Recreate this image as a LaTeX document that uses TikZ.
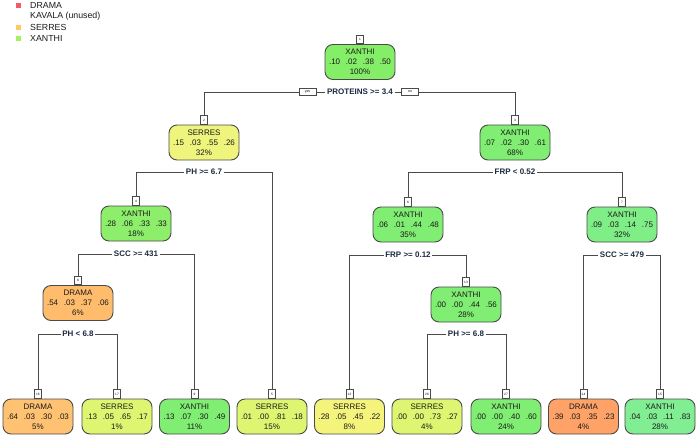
\documentclass[tikz,border=0pt]{standalone}
\usepackage{fontspec}
\setmainfont{Liberation Sans}
\definecolor{lnc}{HTML}{4A4A4A}
\definecolor{txt}{HTML}{1A1A1A}
\definecolor{spl}{HTML}{1C2A40}
\definecolor{gA}{HTML}{84EE68}
\definecolor{gB}{HTML}{80EE72}
\definecolor{gC}{HTML}{80EE86}
\definecolor{gD}{HTML}{82EE94}
\definecolor{gE}{HTML}{8CEE6A}
\definecolor{yA}{HTML}{EEF47C}
\definecolor{yB}{HTML}{F4F47C}
\definecolor{yC}{HTML}{DEF572}
\definecolor{oA}{HTML}{FFBC6C}
\definecolor{oB}{HTML}{FFC272}
\definecolor{oC}{HTML}{FFA268}
\definecolor{legR}{HTML}{F25A64}
\definecolor{legO}{HTML}{FFC860}
\definecolor{legG}{HTML}{A6F060}
\tikzset{
  tbox/.style={draw=lnc, line width=0.9pt, rounded corners=8pt, minimum width=70pt,
    minimum height=35pt, inner sep=0pt, align=center, text=txt,
    font=\fontsize{8}{9.8}\selectfont},
  numbox/.style={draw=lnc, fill=white, line width=0.6pt, minimum width=7pt,
    minimum height=8.5pt, inner sep=0pt, font=\fontsize{3.2}{3.2}\selectfont, anchor=south},
  splitlbl/.style={inner sep=1.5pt, text=spl, font=\bfseries\fontsize{8}{8}\selectfont},
  yn/.style={draw=lnc, fill=white, line width=0.6pt, minimum width=17pt, minimum height=7pt,
    inner sep=0pt, font=\fontsize{3.5}{3.5}\selectfont},
  conn/.style={draw=lnc, line width=0.9pt},
  legsq/.style={minimum width=5pt, minimum height=5pt, inner sep=0pt},
  legtxt/.style={anchor=west, inner sep=0pt, text=txt, font=\fontsize{8.8}{9}\selectfont}
}
\newcommand{\pr}[4]{#1\hskip5.8pt #2\hskip5.8pt #3\hskip5.8pt #4}
\begin{document}
\begin{tikzpicture}[x=1pt,y=-1pt]
\useasboundingbox (0,0) rectangle (700,439);
% legend
\node[legsq, fill=legR] (lr) at (18.5,5.5) {};
\node[legsq, fill=legO] (lo) at (18.5,27) {};
\node[legsq, fill=legG] (lg) at (18.5,38) {};
\node[legtxt] (t1) at (30,5.5) {DRAMA};
\node[legtxt] (t2) at (30,16.5) {KAVALA (unused)};
\node[legtxt] (t3) at (30,27) {SERRES};
\node[legtxt] (t4) at (30,38) {XANTHI};
% nodes
\node[tbox, fill=gA] (n1) at (360,62) {XANTHI\\\pr{.10}{.02}{.38}{.50}\\100\%};
\node[tbox, fill=yA] (n2) at (204,142.5) {SERRES\\\pr{.15}{.03}{.55}{.26}\\32\%};
\node[tbox, fill=gB] (n3) at (515,142.5) {XANTHI\\\pr{.07}{.02}{.30}{.61}\\68\%};
\node[tbox, fill=gE] (n4) at (136,223.5) {XANTHI\\\pr{.28}{.06}{.33}{.33}\\18\%};
\node[tbox, fill=gB] (n6) at (408,224.5) {XANTHI\\\pr{.06}{.01}{.44}{.48}\\35\%};
\node[tbox, fill=gC] (n7) at (622,224.5) {XANTHI\\\pr{.09}{.03}{.14}{.75}\\32\%};
\node[tbox, fill=oA] (n8) at (78,303) {DRAMA\\\pr{.54}{.03}{.37}{.06}\\6\%};
\node[tbox, fill=gB] (n13) at (466,304.5) {XANTHI\\\pr{.00}{.00}{.44}{.56}\\28\%};
\node[tbox, fill=oB] (n16) at (38,416.5) {DRAMA\\\pr{.64}{.03}{.30}{.03}\\5\%};
\node[tbox, fill=yC] (n17) at (117,416.5) {SERRES\\\pr{.13}{.05}{.65}{.17}\\1\%};
\node[tbox, fill=gB] (n9) at (194.5,416.5) {XANTHI\\\pr{.13}{.07}{.30}{.49}\\11\%};
\node[tbox, fill=yC] (n5) at (272,416.5) {SERRES\\\pr{.01}{.00}{.81}{.18}\\15\%};
\node[tbox, fill=yB] (n12) at (349.5,416.5) {SERRES\\\pr{.28}{.05}{.45}{.22}\\8\%};
\node[tbox, fill=yC] (n26) at (427,416.5) {SERRES\\\pr{.00}{.00}{.73}{.27}\\4\%};
\node[tbox, fill=gB] (n27) at (506,416.5) {XANTHI\\\pr{.00}{.00}{.40}{.60}\\24\%};
\node[tbox, fill=oC] (n14) at (583.5,416.5) {DRAMA\\\pr{.39}{.03}{.35}{.23}\\4\%};
\node[tbox, fill=gD] (n15) at (660,416.5) {XANTHI\\\pr{.04}{.03}{.11}{.83}\\28\%};
% number boxes
\foreach \n in {1,2,3,4,5,6,7,8,9,12,13,14,15,16,17,26,27}{
  \node[numbox] (b\n) at (n\n.north) {\n};
}
% split labels
\node[splitlbl] (s1) at (360,92) {PROTEINS >= 3.4};
\node[yn] (yes) at (307.5,92) {yes};
\node[yn] (no) at (410,92) {no};
\node[splitlbl] (s2) at (204,172) {PH >= 6.7};
\node[splitlbl] (s3) at (515,172) {FRP < 0.52};
\node[splitlbl] (s4) at (136,254) {SCC >= 431};
\node[splitlbl] (s6) at (408,255) {FRP >= 0.12};
\node[splitlbl] (s7) at (622,255) {SCC >= 479};
\node[splitlbl] (s8) at (78,334) {PH < 6.8};
\node[splitlbl] (s13) at (466,334) {PH >= 6.8};
% connectors
\draw[conn] (b2.north) |- (yes.west);
\draw[conn] (yes.east) -- (s1.west);
\draw[conn] (s1.east) -- (no.west);
\draw[conn] (no.east) -| (b3.north);
\draw[conn] (b4.north) |- (s2.west);
\draw[conn] (s2.east) -| (b5.north);
\draw[conn] (b6.north) |- (s3.west);
\draw[conn] (s3.east) -| (b7.north);
\draw[conn] (b8.north) |- (s4.west);
\draw[conn] (s4.east) -| (b9.north);
\draw[conn] (b12.north) |- (s6.west);
\draw[conn] (s6.east) -| (b13.north);
\draw[conn] (b14.north) |- (s7.west);
\draw[conn] (s7.east) -| (b15.north);
\draw[conn] (b16.north) |- (s8.west);
\draw[conn] (s8.east) -| (b17.north);
\draw[conn] (b26.north) |- (s13.west);
\draw[conn] (s13.east) -| (b27.north);
\end{tikzpicture}
\end{document}
